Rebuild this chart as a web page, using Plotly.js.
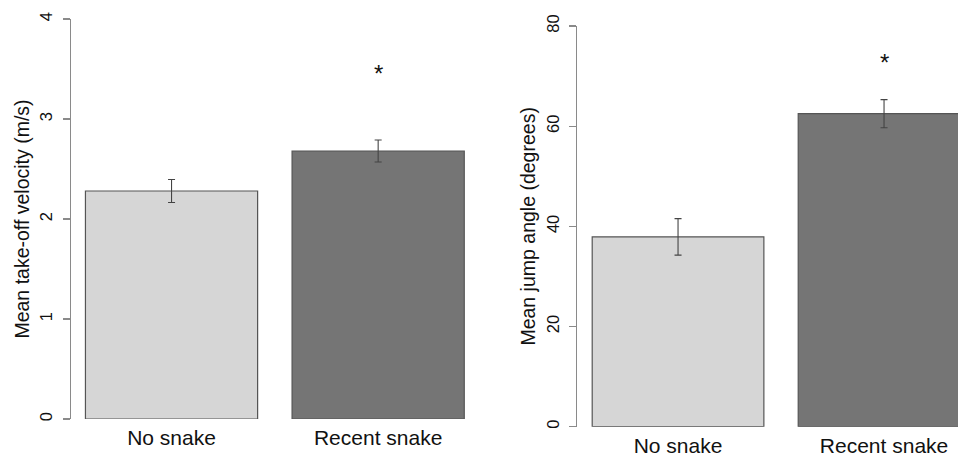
<!DOCTYPE html>
<html>
<head>
<meta charset="utf-8">
<script src="https://cdn.plot.ly/plotly-3.0.1.min.js"></script>
<style>html,body{margin:0;padding:0;background:#fff;}#chart{width:958px;height:456px;}</style>
</head>
<body>
<div id="chart"></div>
<script>
// ---- data ----
const categories = ['No snake', 'Recent snake'];
const velocityMean = [2.28, 2.68];
const velocitySE = [0.115, 0.11];
const velocitySig = ['', '*'];
const velocitySigY = [null, 3.5];
const angleMean = [37.9, 62.5];
const angleSE = [3.65, 2.8];
const angleSig = ['', '*'];
const angleSigY = [null, 73.7];
const barColors = ['#d6d6d6', '#757575'];

const W = 958, H = 456;
const px = v => v / W;
const py = v => (H - v) / H;

const FONT = 'Liberation Sans, Arial, Helvetica, sans-serif';

function barTrace(xa, ya, means, se) {
  return {
    type: 'bar', x: categories, y: means, xaxis: xa, yaxis: ya,
    marker: {color: barColors, line: {color: '#555', width: 1.2}},
    error_y: {type: 'data', array: se, visible: true, color: '#444', thickness: 1.1, width: 3.5},
    hoverinfo: 'none', showlegend: false
  };
}
function sigAnnots(xa, ya, labels, ys) {
  const out = [];
  labels.forEach((t, i) => {
    if (!t) return;
    out.push({x: categories[i], y: ys[i], xref: xa, yref: ya, text: t, showarrow: false,
      font: {family: FONT, size: 24, color: '#111'}, yanchor: 'middle', yshift: -5});
  });
  return out;
}

const yAxisCommon = {
  showline: true, linecolor: '#8a8a8a', linewidth: 1.2,
  ticks: 'outside', ticklen: 7, tickcolor: '#8a8a8a', tickwidth: 1.2,
  tickangle: -90, tickfont: {family: FONT, size: 16.5, color: '#111'},
  ticklabelstandoff: 4,
  showgrid: false, zeroline: false, fixedrange: true
};
const xAxisCommon = {
  type: 'category', showline: false, ticks: '', showgrid: false, zeroline: false,
  tickfont: {family: FONT, size: 21, color: '#111'}, ticklabelstandoff: 4, fixedrange: true
};

const data = [
  barTrace('x', 'y', velocityMean, velocitySE),
  barTrace('x2', 'y2', angleMean, angleSE)
];

const layout = {
  width: W, height: H,
  margin: {l: 0, r: 0, t: 0, b: 0},
  paper_bgcolor: '#fff', plot_bgcolor: '#fff',
  bargap: 1/6,
  font: {family: FONT},
  xaxis: Object.assign({}, xAxisCommon, {domain: [px(70.7), px(479)], range: [-0.488, 1.488], anchor: 'y'}),
  yaxis: Object.assign({}, yAxisCommon, {domain: [py(419), py(19)], range: [0, 4], tickvals: [0, 1, 2, 3, 4], anchor: 'x',
    title: {text: 'Mean take-off velocity (m/s)', font: {family: FONT, size: 19.5, color: '#111'}, standoff: 2}}),
  xaxis2: Object.assign({}, xAxisCommon, {domain: [px(577.3), 1], range: [-0.489, 1.359], anchor: 'y2'}),
  yaxis2: Object.assign({}, yAxisCommon, {domain: [py(426.7), py(26)], range: [0, 80], tickvals: [0, 20, 40, 60, 80], anchor: 'x2',
    title: {text: 'Mean jump angle (degrees)', font: {family: FONT, size: 19.5, color: '#111'}, standoff: 2}}),
  annotations: [].concat(sigAnnots('x', 'y', velocitySig, velocitySigY), sigAnnots('x2', 'y2', angleSig, angleSigY))
};

Plotly.newPlot('chart', data, layout, {displayModeBar: false, staticPlot: true});
</script>
</body>
</html>
